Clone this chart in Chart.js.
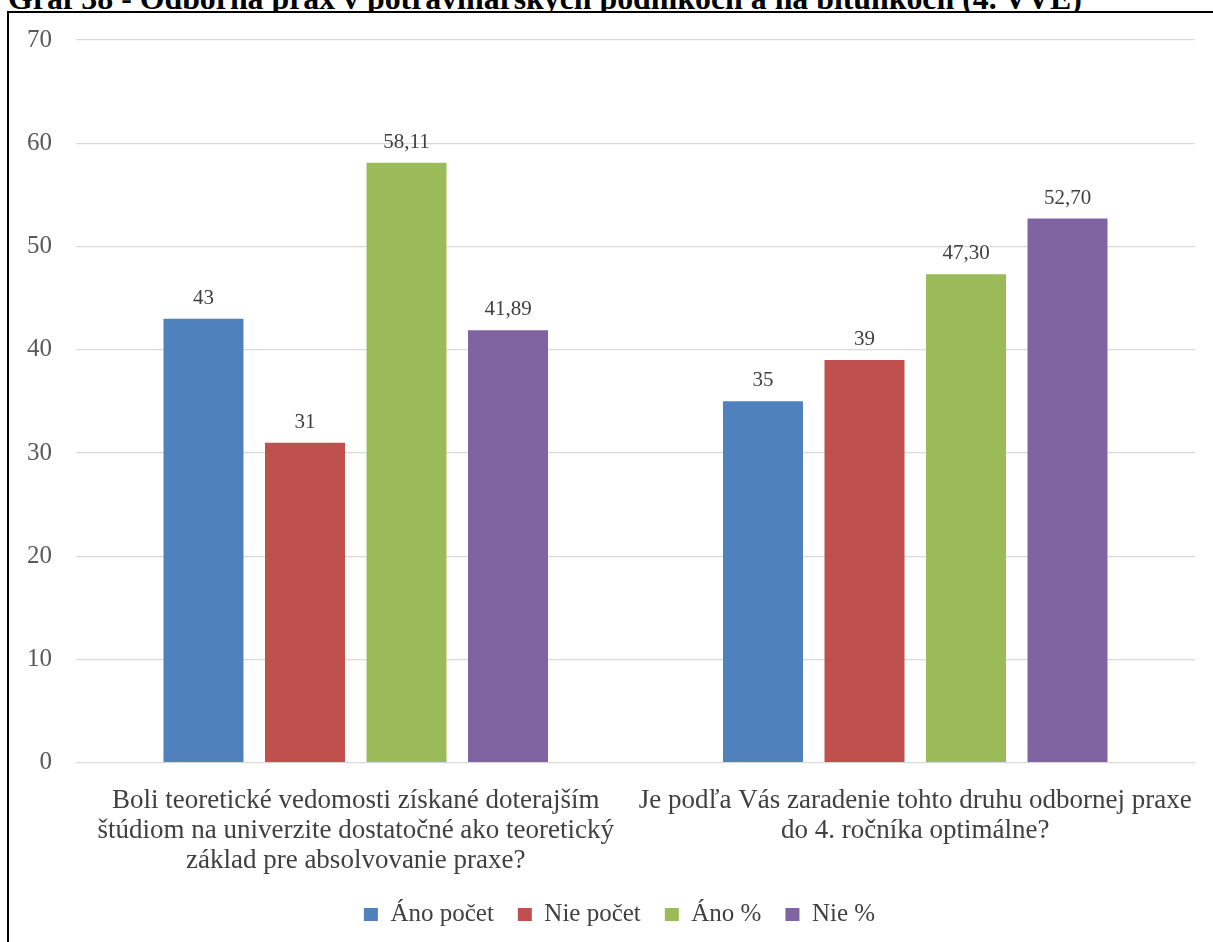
<!DOCTYPE html>
<html lang="sk">
<head>
<meta charset="utf-8">
<title>Graf 38</title>
<script src="https://cdn.jsdelivr.net/npm/chart.js@4.4.1/dist/chart.umd.min.js"></script>
<style>
    html, body { margin: 0; padding: 0; background: #fff; overflow: hidden; }
    #wrap { position: relative; width: 1213px; height: 942px; overflow: hidden; }
    #title {
        position: absolute; left: 8px; top: -13px; white-space: nowrap;
        font: bold 27px "Liberation Serif", "Times New Roman", serif; line-height: 27px; color: #000;
    }
    #frame {
        position: absolute; left: 7px; top: 11px; width: 1300px; height: 1000px;
        border: 2px solid #000; background: #fff;
    }
    #chart { position: absolute; left: 0; top: 0; }
</style>
</head>
<body>
<div id="wrap">
    <div id="title">Graf 38 - Odborná prax v potravinárskych podnikoch a na bitúnkoch (4. VVE)</div>
    <div id="frame"></div>
    <canvas id="chart" width="1213" height="942"></canvas>
</div>
<script>
const categories = [
    ['Boli teoretické vedomosti získané doterajším', 'štúdiom na univerzite dostatočné ako teoretický', 'základ pre absolvovanie praxe?'],
    ['Je podľa Vás zaradenie tohto druhu odbornej praxe', 'do 4. ročníka optimálne?']
];
const seriesNames = ['Áno počet', 'Nie počet', 'Áno %', 'Nie %'];
const anoPocet = [43, 35];
const niePocet = [31, 39];
const anoPercent = [58.11, 47.30];
const niePercent = [41.89, 52.70];
const yTicks = [0, 10, 20, 30, 40, 50, 60, 70];

const serif = '"Liberation Serif", "Times New Roman", serif';

// fit the (cut off) title to the width it has in the picture
const title = document.getElementById('title');
const titleSize = 27 * 1074 / title.getBoundingClientRect().width;
title.style.fontSize = titleSize + 'px';
title.style.lineHeight = titleSize + 'px';
title.style.top = (10 - 0.8375 * titleSize) + 'px';

// value labels above each bar, decimal comma like the original
const valueLabels = {
    id: 'valueLabels',
    afterLayout(chart) {
        // legend sits a bit right of the canvas centre in the original
        chart.legend.left += 10;
        chart.legend.right += 10;
    },
    afterDatasetsDraw(chart) {
        const ctx = chart.ctx;
        ctx.save();
        ctx.font = '21px ' + serif;
        ctx.fillStyle = '#404040';
        ctx.textAlign = 'center';
        ctx.textBaseline = 'alphabetic';
        chart.data.datasets.forEach((ds, i) => {
            chart.getDatasetMeta(i).data.forEach((bar, j) => {
                const text = ds.data[j].toFixed(ds.decimals).replace('.', ',');
                ctx.fillText(text, bar.x, bar.y - 15);
            });
        });
        ctx.restore();
    }
};

function makeDataset(label, data, color, decimals) {
    return {
        label: label,
        data: data,
        backgroundColor: color,
        borderWidth: 0,
        decimals: decimals,
        categoryPercentage: 0.7257,
        barPercentage: 0.788
    };
}

new Chart(document.getElementById('chart'), {
    type: 'bar',
    data: {
        labels: categories,
        datasets: [
            makeDataset(seriesNames[0], anoPocet, '#4F81BD', 0),
            makeDataset(seriesNames[1], niePocet, '#C0504D', 0),
            makeDataset(seriesNames[2], anoPercent, '#9BBB59', 2),
            makeDataset(seriesNames[3], niePercent, '#8064A2', 2)
        ]
    },
    options: {
        responsive: false,
        animation: false,
        layout: { padding: { left: 24, right: 18, top: 40, bottom: 5 }, autoPadding: false },
        scales: {
            x: {
                grid: { display: false, drawTicks: true, tickLength: 23 },
                border: { display: false },
                ticks: {
                    color: '#404040',
                    font: { family: serif, size: 27, lineHeight: 30 / 27 },
                    padding: 0,
                    maxRotation: 0,
                    autoSkip: false
                },
                afterFit: s => { s.height = 115.3; }
            },
            y: {
                min: yTicks[0],
                max: yTicks[yTicks.length - 1],
                afterBuildTicks: s => { s.ticks = yTicks.map(v => ({ value: v })); },
                ticks: { color: '#595959', font: { family: serif, size: 25 }, padding: 24 },
                grid: { color: '#d9d9d9', lineWidth: 1.3, drawTicks: false },
                border: { display: false },
                afterFit: s => { s.width = 52; }
            }
        },
        plugins: {
            legend: {
                position: 'bottom',
                labels: {
                    boxWidth: 14,
                    boxHeight: 13,
                    padding: 24,
                    color: '#404040',
                    font: { family: serif, size: 25 }
                }
            },
            tooltip: { enabled: false }
        }
    },
    plugins: [valueLabels]
});
</script>
</body>
</html>
